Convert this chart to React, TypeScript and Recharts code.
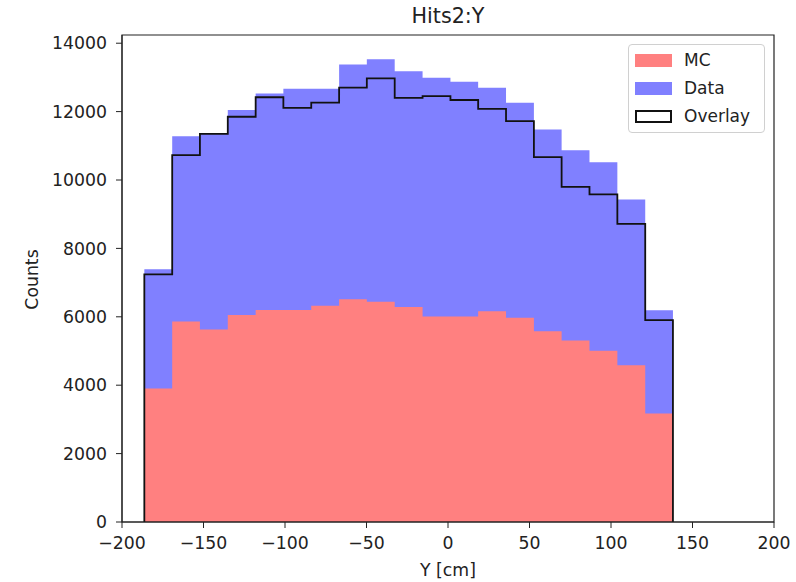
/**
 * Hits2:Y — stepped histogram comparison of MC vs Data with a black
 * outline overlay, drawn matplotlib-style.
 */
import {
  ComposedChart,
  Area,
  Line,
  XAxis,
  YAxis,
  Legend,
  ReferenceArea,
  Label,
} from "recharts";

// bin edges in cm (19 bins)
const binEdges = [
  -186.3, -169.2, -152.2, -135.1, -118.0, -101.0, -83.9, -66.8, -49.8, -32.7,
  -15.6, 1.5, 18.5, 35.6, 52.7, 69.7, 86.8, 103.9, 121.0, 138.0,
];

const dataCounts = [
  7390, 11280, 11350, 12050, 12530, 12670, 12670, 13380, 13530, 13180, 12990,
  12870, 12700, 12260, 11480, 10870, 10520, 9430, 6190,
];

const overlayCounts = [
  7240, 10730, 11350, 11850, 12420, 12110, 12260, 12700, 12970, 12400, 12450,
  12340, 12080, 11720, 10670, 9800, 9580, 8720, 5900,
];

const mcCounts = [
  3900, 5860, 5630, 6050, 6200, 6200, 6320, 6510, 6440, 6290, 6010, 6010, 6160,
  5970, 5580, 5310, 5010, 4580, 3170,
];

const xTicks = [-200, -150, -100, -50, 0, 50, 100, 150, 200];
const yTicks = [0, 2000, 4000, 6000, 8000, 10000, 12000, 14000];

const FONT = "DejaVu Sans";
const INK = "#222";
const MC_COLOR = "#ff8080";
const DATA_COLOR = "#8080ff";

// step rows: start at zero, one row per bin edge, close back to zero
const n = mcCounts.length;
const rows = [
  { x: binEdges[0], mc: 0, data: 0, overlay: 0 },
  ...binEdges.map((x, i) => {
    const j = Math.min(i, n - 1);
    return { x, mc: mcCounts[j], data: dataCounts[j], overlay: overlayCounts[j] };
  }),
  { x: binEdges[n], mc: 0, data: 0, overlay: 0 },
];

const fmt = (v: number) => String(v).replace("-", "\u2212");

const legendItems = [
  { name: "MC", kind: "fill", color: MC_COLOR },
  { name: "Data", kind: "fill", color: DATA_COLOR },
  { name: "Overlay", kind: "outline", color: "#111" },
];

function LegendBox() {
  return (
    <div
      style={{
        width: 137,
        height: 89,
        border: "1px solid #d0d0d0",
        borderRadius: 4,
        background: "rgba(255,255,255,0.8)",
        boxSizing: "border-box",
        padding: "1px 0 0 6px",
        fontFamily: FONT,
        fontSize: 17,
        color: INK,
      }}
    >
      {legendItems.map((it) => (
        <div key={it.name} style={{ display: "flex", alignItems: "center", height: 28 }}>
          <span
            style={{
              display: "inline-block",
              width: 37,
              height: 13,
              boxSizing: "border-box",
              background: it.kind === "fill" ? it.color : "#fff",
              border: it.kind === "outline" ? `2px solid ${it.color}` : "none",
              marginRight: 12,
            }}
          />
          <span style={{ lineHeight: "17px" }}>{it.name}</span>
        </div>
      ))}
    </div>
  );
}

export default function App() {
  return (
    <div style={{ position: "absolute", left: 0, top: 0, width: 796, height: 582, background: "#fff" }}>
      <ComposedChart
        width={796}
        height={582}
        data={rows}
        margin={{ top: 35, right: 22, left: 0, bottom: 0 }}
      >
        <XAxis
          dataKey="x"
          type="number"
          domain={[-200, 200]}
          ticks={xTicks}
          interval={0}
          allowDataOverflow
          height={60}
          tickSize={6}
          tickMargin={9}
          tickFormatter={fmt}
          stroke={INK}
          tick={{ fill: INK, fontSize: 17.3, fontFamily: FONT }}
        >
          <Label
            content={({ viewBox }: any) => (
              <text
                x={viewBox.x + viewBox.width / 2}
                y={viewBox.y + 54}
                textAnchor="middle"
                fontFamily={FONT}
                fontSize={17.3}
                fill={INK}
              >
                Y [cm]
              </text>
            )}
          />
        </XAxis>
        <YAxis
          type="number"
          domain={[0, 14240]}
          ticks={yTicks}
          interval={0}
          allowDataOverflow
          width={122}
          tickSize={6}
          tickMargin={9}
          stroke={INK}
          tick={{ fill: INK, fontSize: 17.3, fontFamily: FONT }}
        >
          <Label
            content={({ viewBox }: any) => {
              const cx = 37.5;
              const cy = viewBox.y + viewBox.height / 2 + 1;
              return (
                <text
                  x={cx}
                  y={cy}
                  transform={`rotate(-90, ${cx}, ${cy})`}
                  textAnchor="middle"
                  fontFamily={FONT}
                  fontSize={17.3}
                  fill={INK}
                >
                  Counts
                </text>
              );
            }}
          />
        </YAxis>
        <Area
          dataKey="data"
          type="stepAfter"
          fill={DATA_COLOR}
          fillOpacity={1}
          stroke="none"
          isAnimationActive={false}
          dot={false}
          activeDot={false}
        />
        <Area
          dataKey="mc"
          type="stepAfter"
          fill={MC_COLOR}
          fillOpacity={1}
          stroke="none"
          isAnimationActive={false}
          dot={false}
          activeDot={false}
        />
        <Line
          dataKey="overlay"
          type="stepAfter"
          stroke="#111"
          strokeWidth={1.8}
          dot={false}
          activeDot={false}
          isAnimationActive={false}
        />
        <ReferenceArea
          x1={-200}
          x2={200}
          y1={0}
          y2={14240}
          fill="none"
          stroke={INK}
          strokeWidth={1.2}
          ifOverflow="visible"
        >
          <Label
            content={({ viewBox }: any) => (
              <text
                x={viewBox.x + viewBox.width / 2}
                y={23}
                textAnchor="middle"
                fontFamily={FONT}
                fontSize={20.7}
                fill={INK}
              >
                Hits2:Y
              </text>
            )}
          />
        </ReferenceArea>
        {/* middle/center placement keeps the legend from shrinking the plot */}
        <Legend
          layout="horizontal"
          verticalAlign="middle"
          align="center"
          content={() => <LegendBox />}
          wrapperStyle={{ position: "absolute", left: 628, top: 44, width: "auto", height: "auto" }}
        />
      </ComposedChart>
    </div>
  );
}
